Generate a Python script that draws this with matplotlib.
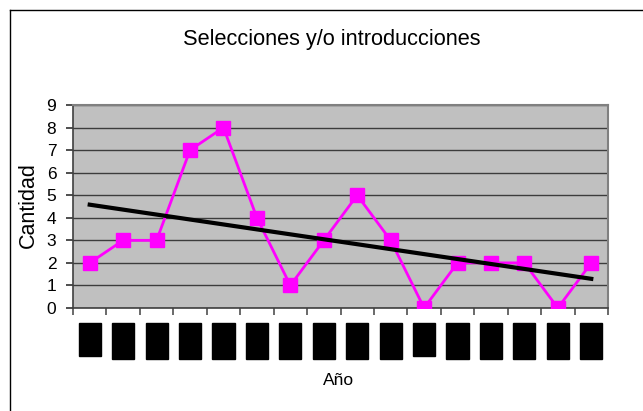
import matplotlib.pyplot as plt
import numpy as np
from matplotlib.patches import Rectangle
from matplotlib.lines import Line2D

plt.rcParams['font.family'] = ['Liberation Sans', 'DejaVu Sans']

# datos
cantidad = [2, 3, 3, 7, 8, 4, 1, 3, 5, 3, 0, 2, 2, 2, 0, 2]
anios = list(range(1, len(cantidad) + 1))   # etiquetas ilegibles (cuadros negros)
etiquetas_cortas = [1, 11]                  # cuadros algo mas bajos
titulo = 'Selecciones y/o introducciones'

fig = plt.figure(figsize=(6.43, 4.11), dpi=100)
ax = fig.add_axes([73/643, 1-308/411, 535/643, 203/411])

x = np.array(anios)
y = np.array(cantidad)

ax.set_facecolor('#c0c0c0')
ax.plot(x, y, color='#ff00ff', lw=2, marker='s', ms=10.5, mec='#ff00ff', mfc='#ff00ff', zorder=3)

# linea de tendencia lineal
m, b = np.polyfit(x, y, 1)
ax.plot(x, m*x + b, color='black', lw=3, zorder=4)

ax.set_xlim(0.5, len(cantidad) + 0.5)
ax.set_ylim(0, 9)
ax.set_yticks(range(10))
ax.yaxis.grid(True, color='#3c3c3c', lw=1)
ax.set_axisbelow(True)

ax.set_xticks(np.arange(0.5, len(cantidad) + 1, 1))
ax.set_xticklabels([])
ax.tick_params(axis='x', length=5, width=1.2, color='#505050', direction='out')
ax.tick_params(axis='y', length=5, width=1.2, color='#303030', labelsize=12.5, pad=7)

for s in ['top', 'right']:
    ax.spines[s].set_color('#808080')
    ax.spines[s].set_linewidth(1.5)
for s in ['left', 'bottom']:
    ax.spines[s].set_color('#404040')
    ax.spines[s].set_linewidth(1.2)

# cuadros negros en lugar de las etiquetas del eje x
tr = ax.get_xaxis_transform()
for a in anios:
    h = 0.163 if a in etiquetas_cortas else 0.177
    ax.add_patch(Rectangle((a - 0.33, -0.074 - h), 0.66, h, transform=tr,
                           color='black', clip_on=False))

ax.set_ylabel('Cantidad', fontsize=15.5)
ax.yaxis.set_label_coords(-0.063, 0.507)
fig.text(339/643, 1-385/411, 'Año', fontsize=12.5, ha='center', va='baseline')
fig.text(332/643, 1-45/411, titulo, fontsize=15.7, ha='center', va='baseline')

# borde del area del grafico
fig.add_artist(Line2D([10/643, 10/643], [0, 1-10/411], color='black', lw=1))
fig.add_artist(Line2D([10/643, 1], [1-10/411, 1-10/411], color='black', lw=1))

fig.savefig('out.png', dpi=100)
